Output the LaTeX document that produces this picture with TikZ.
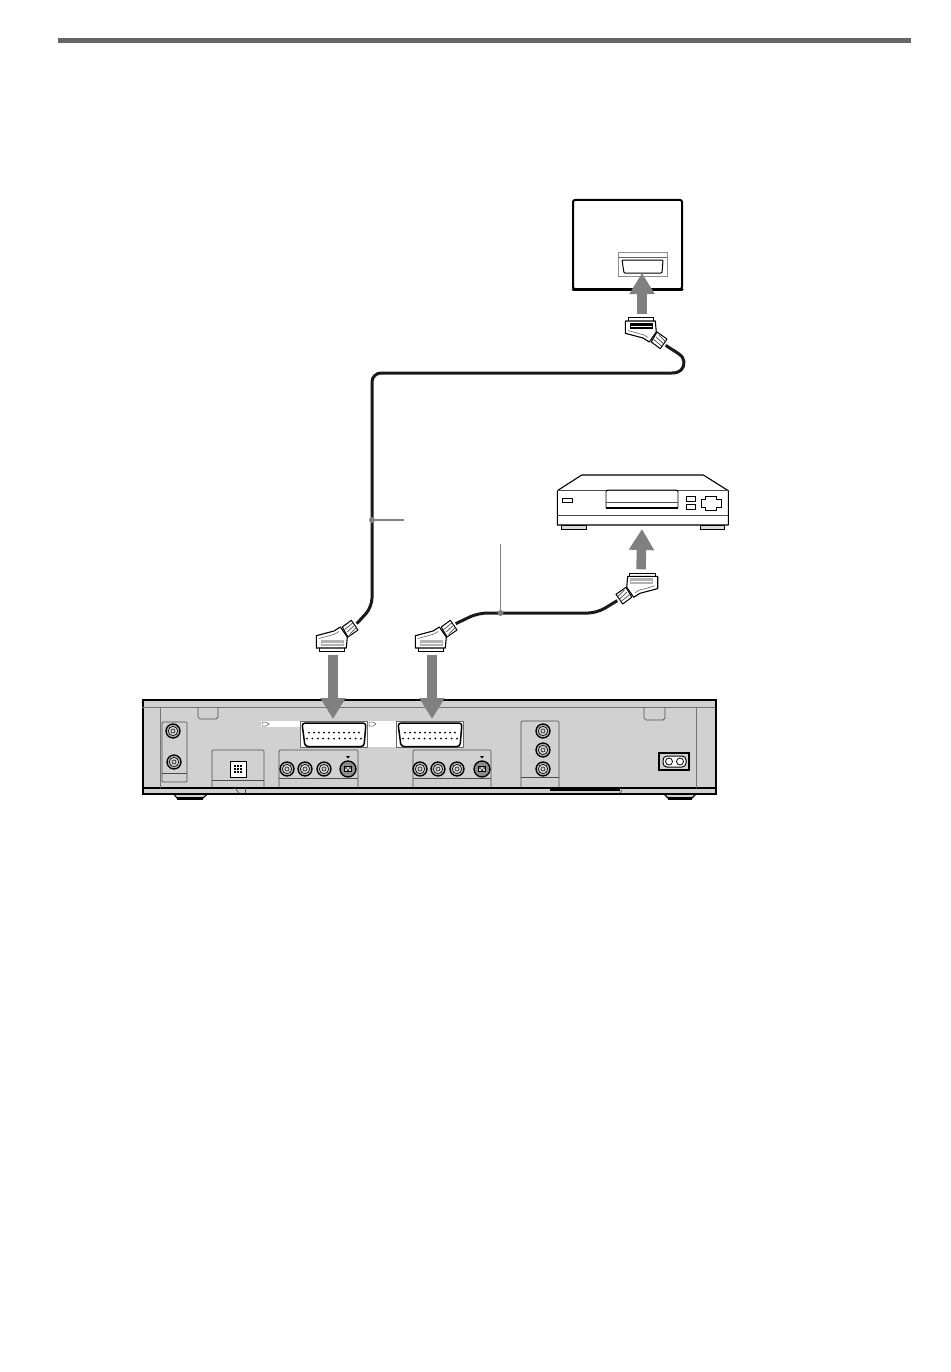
\documentclass[tikz,border=0pt]{standalone}
\usepackage{tikz}
\usetikzlibrary{arrows.meta}

\definecolor{panelgray}{rgb}{0.82,0.82,0.82}
\definecolor{arrowgray}{gray}{0.5}
\tikzset{
  bigarrow/.style={draw=arrowgray, line width=9.5pt, -{Triangle[width=24pt,length=21pt]}},
  cable/.style={line width=3pt, line join=round, rounded corners=9pt, black!90},
  callout/.style={draw=arrowgray, line width=1.3pt},
  calldot/.style={circle, fill=arrowgray, inner sep=0pt, minimum size=6pt},
  panel/.style={draw=black!70, line width=.7pt, rounded corners=1pt},
  thinline/.style={draw=black!70, line width=.7pt},
  whitebox/.style={fill=white, draw=none, inner sep=0pt, anchor=north west},
  bodybox/.style={fill=panelgray, draw=black, line width=1.6pt, inner sep=0pt, anchor=north west},
  pics/jack/.style={code={
    \draw[line width=1.3pt, fill=black!30] (0,0) circle (7pt);
    \draw[line width=.6pt, fill=panelgray] (0,0) circle (4.7pt);
    \draw[line width=.5pt] (0,0) circle (2pt);
  }},
  pics/svideo/.style={code={
    \draw[line width=1.3pt, fill=black!45] (0,0) circle (8pt);
    \draw[line width=.4pt, fill=panelgray] (-3.5,-3) rectangle (3.5,2.5);
    \fill (-2,-1) circle (.8pt) (2,-1) circle (.8pt) (0,1) circle (1pt);
    \fill (0,-10.5) -- (-2,-13) -- (2,-13) -- cycle;
  }},
  pics/scartsock/.style={code={
    \draw[line width=1.5pt, fill=white, rounded corners=3pt] (-32,-12) -- (32,-12) -- (30,11.5) -- (-29,11.5) -- cycle;
    \foreach \i in {0,...,10} {
      \fill (-25+5*\i,-2.5) circle (1pt);
      \fill (-27+5.4*\i,3.5) circle (1pt);
    }
  }},
  pics/scartplug/.style={code={
    \draw[line width=1pt, fill=white] (-13,5) -- (-13,8.3) -- (12.7,8.3) -- (12.7,5);
    \draw[line width=1.1pt, fill=white, line join=round] (-15.7,-7.3) -- (2,-12) -- (8.3,-16) -- (15.3,-6) -- (14.3,5) -- (-15.7,5) -- cycle;
    \fill[#1] (-10.7,-2.7) rectangle (11.7,3.3);
    \draw[white, line width=.5pt] (-10,0) -- (11,0);
    \draw[black!70, line width=.5pt] (-13,-4.5) -- (3,-9) -- (7,-11.5);
    \draw[line width=1pt, fill=white, line join=round] (10.3,-16) -- (19.3,-22.7) -- (26,-13) -- (16,-6) -- cycle;
    \foreach \i in {1,2,3}
      \draw[black!70, line width=.7pt] (10.3+2.4*\i,-16+2.5*\i) -- (19.3+1.7*\i,-22.7+2.4*\i);
    \coordinate (-lead) at (24.7,-19.3);
    \coordinate (-out) at (1,12);
  }},
}

\begin{document}
\begin{tikzpicture}[x=1pt, y=-1pt]
\useasboundingbox (0,0) rectangle (950,1372);

% page rule
\coordinate (ruleL) at (58,41);
\coordinate (ruleR) at (911,41);
\draw[line width=5pt, black!60] (ruleL) -- (ruleR);

% tv
\draw[line width=2pt, rounded corners=2pt] (573,200) rectangle (682,289);
\draw[line width=3pt, line cap=round] (573,289) -- (682,289);
\draw[thinline, black!45, fill=white] (618,252) rectangle (667,276);
\draw[thinline, black!60] (618,257) -- (667,257);
\draw[line width=1pt, fill=white, rounded corners=1pt] (622,260) -- (663,260) -- (662,273) -- (624,273) -- cycle;
\coordinate (tvtip) at (642,273);

% vcr
\draw[line width=1.1pt, line join=round, fill=white] (581.7,475) -- (703.3,475) -- (728.3,490.7) -- (728.3,525) -- (557.3,525) -- (557.3,490.7) -- cycle;
\draw[thinline] (557.3,490.7) -- (728.3,490.7);
\draw[thinline] (557.3,515) -- (728.3,515);
\draw[line width=1pt, fill=black!15] (561.7,525) rectangle (586,529);
\draw[line width=1pt, fill=black!15] (700,525) rectangle (724,529);
\draw[line width=.9pt] (562.7,498.3) rectangle (572.3,502.7);
\draw[line width=.9pt, rounded corners=2pt] (606,508) -- (606,490) -- (678,490) -- (678,508);
\draw[thinline] (606,502) -- (678,502);
\draw[line width=1.4pt] (606,508) -- (678,508);
\draw[line width=.9pt] (686,496) rectangle (695,501.7);
\draw[line width=.9pt] (686,504.3) rectangle (695,509.3);
\draw[line width=.9pt, line join=round] (705.2,496.6) -- (716.8,496.6) -- (716.8,499.6) -- (721,499.6) -- (721,507) -- (716.8,507) -- (716.8,510) -- (705.2,510) -- (705.2,507) -- (701,507) -- (701,499.6) -- (705.2,499.6) -- cycle;
\coordinate (vcrtip) at (642,529);

% recorder
\draw[line width=1.1pt, fill=panelgray] (170,790) -- (177,798) -- (203,798) -- (212,790) -- cycle;
\draw[line width=2.2pt] (177,798.5) -- (203,798.5);
\draw[line width=1.1pt, fill=panelgray] (660,790) -- (668,798) -- (692,798) -- (700,790) -- cycle;
\draw[line width=2.2pt] (668,798.5) -- (692,798.5);
\node[bodybox, minimum width=573pt, minimum height=94pt] (recorder) at (142,699) {};
\draw[line width=1.8pt] (142,788) -- (715,788);
\draw[thinline, black!55] (142,707) -- (715,707);
\draw[thinline, black!55] (160,707) -- (160,788);
\draw[thinline, black!55] (696,707) -- (696,788);
\draw[thinline] (198,707) -- (198,717) -- (200,719) -- (216,719) -- (218,717) -- (218,707);
\draw[thinline] (644,707) -- (644,718) -- (646,720) -- (663,720) -- (665,718) -- (665,707);
\draw[line width=1.2pt] (550,790) -- (620,790);
\draw[thinline] (235,788) -- (239,793);
\draw[thinline] (620,793) -- (622,790);
\draw[thinline] (245,788) -- (245,793);

% antenna panel
\draw[panel] (162,722) rectangle (187,782);
\draw[thinline] (162,773) -- (187,773);
\pic (antA) at (173,731) {jack};
\pic (antB) at (174,762) {jack};

% line panel A, B
\node[whitebox, minimum width=39pt, minimum height=6pt] (labelA) at (261,721) {};
\node[whitebox, draw=black!60, line width=.5pt, minimum width=67pt, minimum height=26pt] (scartboxA) at (300,721) {};
\node[whitebox, minimum width=28pt, minimum height=26pt] (labelB) at (368,721) {};
\node[whitebox, draw=black!60, line width=.5pt, minimum width=67pt, minimum height=26pt] (scartboxB) at (396,721) {};
\draw[thinline, line width=.5pt] (262,722) -- (262,726) -- (266,726) -- (269,724) -- (266,722) -- cycle;
\draw[thinline, line width=.5pt] (369,722) -- (369,726) -- (373,726) -- (376,724) -- (373,722) -- cycle;
\pic (sockA) at (334,735) {scartsock};
\pic (sockB) at (430,735) {scartsock};
\coordinate (tipA) at (333,719);
\coordinate (tipB) at (432,719);

% decoder panel
\draw[panel] (212,787) -- (212,750) -- (264,750) -- (264,787);
\draw[thinline] (212,780) -- (264,780);
\draw[line width=1pt, fill=white] (230,761) rectangle (246,777);
\foreach \i in {0,1,2}
  \foreach \j in {0,1,2}
    \fill (233.5+3*\i,764.5+3*\j) rectangle +(2,2);

% av panels
\foreach \name/\xa/\xb/\xc/\xd/\xl/\xr in {A/287/305/324/348/279/358, B/420/438/457/482/413/491} {
  \draw[panel] (\xl,787) -- (\xl,750) -- (\xr,750) -- (\xr,787);
  \draw[thinline] (\xl,778) -- (\xr,778);
  \pic (jack\name a) at (\xa,769) {jack};
  \pic (jack\name b) at (\xb,769) {jack};
  \pic (jack\name c) at (\xc,769) {jack};
  \pic (svid\name) at (\xd,769) {svideo};
}

% audio panel
\draw[panel] (521,787) -- (521,721) -- (559,721) -- (559,787);
\draw[thinline] (521,777) -- (559,777);
\foreach \y in {731,750,769}
  \pic (audio\y) at (543,\y) {jack};

% power
\draw[line width=1.1pt, fill=panelgray] (659,753) rectangle (689,770);
\draw[line width=1pt, fill=white, rounded corners=4pt] (663,756) rectangle (686,767);
\draw[line width=.8pt] (669,761.5) circle (3.5pt) (680,761.5) circle (3.5pt);

% plugs
\pic (plugA) at (332,643) {scartplug=black!30};
\pic (plugB) at (431,643) {scartplug=black!30};
\pic[rotate=180] (plugV) at (642,581.3) {scartplug=black!30};
\pic[yscale=-1] (plugT) at (641,326) {scartplug=black};

% cables
\coordinate (bendTV) at (672,373);
\coordinate (turnTV) at (684,362);
\draw[cable] (plugA-lead) -- (372,607) -- (372,373) -- (bendTV);
\draw[cable, sharp corners] (bendTV) .. controls (680,373) and (684,369) .. (turnTV) .. controls (684,355) and (675,352) .. (plugT-lead);
\draw[cable] (plugB-lead) -- (478,613) -- (597,613) -- (plugV-lead);

% callouts
\node[calldot] (dotTV) at (372,520) {};
\coordinate (endTV) at (404,520);
\draw[callout] (dotTV) -- (endTV);
\node[calldot] (dotVCR) at (500.5,613) {};
\coordinate (endVCR) at (500.5,544);
\draw[callout] (dotVCR) -- (endVCR);

% arrows
\draw[bigarrow] (plugT-out) -- (tvtip);
\draw[bigarrow] (plugV-out) -- (vcrtip);
\draw[bigarrow] (plugA-out) -- (tipA);
\draw[bigarrow] (plugB-out) -- (tipB);
\end{tikzpicture}
\end{document}
